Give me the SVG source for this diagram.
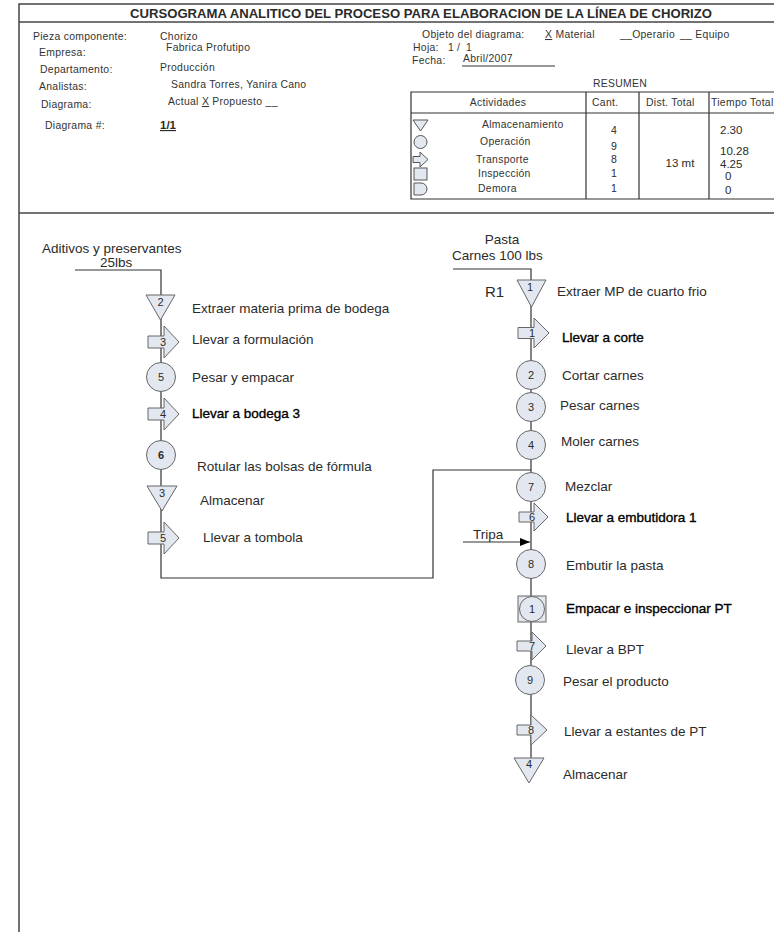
<svg xmlns="http://www.w3.org/2000/svg" width="774" height="932" viewBox="0 0 774 932">
<style>
text{font-family:"Liberation Sans",Arial,sans-serif;fill:#2b2b2b}
.h{font-size:10.4px;letter-spacing:0.3px;fill:#333}
.hv{font-size:11.5px}
.cn{font-size:10.5px;text-anchor:middle}
.lbl{font-size:13.5px}
.dk{fill:#000;stroke:#000;stroke-width:0.35}
.num{font-size:11px;text-anchor:middle}
.shape{fill:#e3e8f0;stroke:#666;stroke-width:1}
.ln{fill:none;stroke:#333;stroke-width:1.2}
.frame{fill:none;stroke:#444;stroke-width:1.5}
.tb{fill:none;stroke:#333;stroke-width:1.2}
.sym{fill:#e3e8f0;stroke:#555;stroke-width:1}
</style>
<defs>
<marker id="ah" markerWidth="10" markerHeight="8" refX="10" refY="4" orient="auto" markerUnits="userSpaceOnUse">
<path d="M0,0 L10,4 L0,8 Z" fill="#000"/>
</marker>
</defs>
<rect width="774" height="932" fill="#fff"/>

<g id="frame">
<path class="frame" d="M19,932 V4 H774"/>
<line class="frame" x1="19" y1="22" x2="774" y2="22"/>
<line class="frame" x1="19" y1="213" x2="774" y2="213"/>
<text x="130" y="18" font-size="12" font-weight="bold" textLength="582" lengthAdjust="spacingAndGlyphs" fill="#111">CURSOGRAMA ANALITICO DEL PROCESO PARA ELABORACION DE LA LÍNEA DE CHORIZO</text>
</g>

<g id="header-left">
<text class="h" x="33" y="40">Pieza componente:</text>
<text class="h" x="160" y="40">Chorizo</text>
<text class="h" x="39" y="56">Empresa:</text>
<text class="h" x="166" y="51">Fabrica Profutipo</text>
<text class="h" x="40" y="73">Departamento:</text>
<text class="h" x="160" y="71">Producción</text>
<text class="h" x="39" y="90">Analistas:</text>
<text class="h" x="171" y="88">Sandra Torres, Yanira Cano</text>
<text class="h" x="41" y="108">Diagrama:</text>
<text class="h" x="168" y="105">Actual <tspan text-decoration="underline">X</tspan> Propuesto __</text>
<text class="h" x="45" y="129">Diagrama #:</text>
<text x="160" y="129" font-size="11.5" font-weight="bold" text-decoration="underline">1/1</text>
</g>

<g id="header-right">
<text class="h" x="422" y="38">Objeto del diagrama:</text>
<text class="h" x="545" y="38"><tspan text-decoration="underline">X</tspan> Material</text>
<text class="h" x="620" y="38">__Operario</text>
<text class="h" x="680" y="38">__ Equipo</text>
<text class="h" x="413" y="51">Hoja:</text>
<text class="h" x="448" y="51">1</text>
<text class="h" x="457" y="51">/</text>
<text class="h" x="466" y="51">1</text>
<text class="h" x="412" y="64">Fecha:</text>
<text class="h" x="463" y="62">Abril/2007</text>
<line x1="462" y1="66" x2="555" y2="66" stroke="#333" stroke-width="1"/>
<text class="h" x="593" y="87">RESUMEN</text>
</g>

<g id="resumen-table">
<path class="tb" d="M774,92 H411 V199 H774"/>
<line class="tb" x1="411" y1="113" x2="774" y2="113"/>
<line class="tb" x1="586" y1="92" x2="586" y2="199"/>
<line class="tb" x1="639" y1="92" x2="639" y2="199"/>
<line class="tb" x1="709" y1="92" x2="709" y2="199"/>
<text class="h" x="498" y="106" text-anchor="middle">Actividades</text>
<text class="h" x="592" y="106">Cant.</text>
<text class="h" x="646" y="106">Dist. Total</text>
<text class="h" x="711" y="106">Tiempo Total</text>
<polygon class="sym" points="413,120 428,120 420.5,131"/>
<circle class="sym" cx="420.5" cy="142" r="6.5"/>
<polygon class="sym" points="413,156.5 420,156.5 420,152 428,159.5 420,167 420,162.5 413,162.5"/>
<rect class="sym" x="414" y="168" width="13" height="12"/>
<path class="sym" d="M414,183 H421 A6,6 0 0 1 421,195 H414 Z"/>
<text class="h" x="482" y="128">Almacenamiento</text>
<text class="h" x="480" y="145">Operación</text>
<text class="h" x="476" y="163">Transporte</text>
<text class="h" x="478" y="177">Inspección</text>
<text class="h" x="478" y="192">Demora</text>
<text class="cn" x="614" y="134">4</text>
<text class="cn" x="614" y="150">9</text>
<text class="cn" x="614" y="163">8</text>
<text class="cn" x="614" y="177">1</text>
<text class="cn" x="614" y="192">1</text>
<text class="hv" x="680" y="167" text-anchor="middle">13 mt</text>
<text class="hv" x="720" y="134">2.30</text>
<text class="hv" x="720" y="155">10.28</text>
<text class="hv" x="720" y="168">4.25</text>
<text class="hv" x="725" y="180">0</text>
<text class="hv" x="725" y="194">0</text>
</g>

<g id="connectors">
<path class="ln" d="M75,270 H161 V578 H433 V470 H531"/>
<path class="ln" d="M453,269 H531 V758"/>
<path class="ln" d="M463,542 H530" marker-end="url(#ah)"/>
</g>

<g id="input-left">
<text class="lbl" x="42" y="253">Aditivos y preservantes</text>
<text class="lbl" x="100" y="267">25lbs</text>
</g>
<g id="input-right">
<text class="lbl" x="502" y="244" text-anchor="middle">Pasta</text>
<text class="lbl" x="452" y="260">Carnes 100 lbs</text>
<text x="485" y="297" font-size="15">R1</text>
</g>
<g id="input-tripa">
<text class="lbl" x="473" y="539">Tripa</text>
</g>

<g id="L-alm2">
<polygon class="shape" points="146,295 175,295 160.5,320"/>
<text class="num" x="160.5" y="306">2</text>
<text class="lbl" x="192" y="313">Extraer materia prima de bodega</text>
</g>
<g id="L-tr3">
<polygon class="shape" points="148,336 164,336 164,326 179,342 164,358 164,348 148,348"/>
<text class="num" x="163" y="346">3</text>
<text class="lbl" x="192" y="344">Llevar a formulación</text>
</g>
<g id="L-op5">
<circle class="shape" cx="161" cy="377" r="14.5"/>
<text class="num" x="161" y="381">5</text>
<text class="lbl" x="192" y="382">Pesar y empacar</text>
</g>
<g id="L-tr4">
<polygon class="shape" points="148,408 164,408 164,398 179,414 164,430 164,420 148,420"/>
<text class="num" x="163" y="418">4</text>
<text class="lbl dk" x="192" y="418">Llevar a bodega 3</text>
</g>
<g id="L-op6">
<circle class="shape" cx="161" cy="455" r="14.5"/>
<text class="num" x="161" y="459" font-weight="bold">6</text>
<text class="lbl" x="197" y="471">Rotular las bolsas de fórmula</text>
</g>
<g id="L-alm3">
<polygon class="shape" points="147,486 177,486 162,511"/>
<text class="num" x="162" y="497">3</text>
<text class="lbl" x="200" y="505">Almacenar</text>
</g>
<g id="L-tr5">
<polygon class="shape" points="148,532 164,532 164,522 179,538 164,554 164,544 148,544"/>
<text class="num" x="163" y="542">5</text>
<text class="lbl" x="203" y="542">Llevar a tombola</text>
</g>

<g id="R-alm1">
<polygon class="shape" points="517,280 546,280 531.5,307"/>
<text class="num" x="530" y="291">1</text>
<text class="lbl" x="557" y="296">Extraer MP de cuarto frio</text>
</g>
<g id="R-tr1">
<polygon class="shape" points="518,327.5 534,327.5 534,318 549,333 534,348 534,338.5 518,338.5"/>
<text class="num" x="532" y="337">1</text>
<text class="lbl dk" x="562" y="342">Llevar a corte</text>
</g>
<g id="R-op2">
<circle class="shape" cx="531" cy="375" r="14.5"/>
<text class="num" x="531" y="379">2</text>
<text class="lbl" x="562" y="380">Cortar carnes</text>
</g>
<g id="R-op3">
<circle class="shape" cx="531" cy="407" r="14.5"/>
<text class="num" x="531" y="411">3</text>
<text class="lbl" x="560" y="410">Pesar carnes</text>
</g>
<g id="R-op4">
<circle class="shape" cx="531" cy="445" r="14.5"/>
<text class="num" x="531" y="449">4</text>
<text class="lbl" x="561" y="446">Moler carnes</text>
</g>
<g id="R-op7">
<circle class="shape" cx="531" cy="487" r="14.5"/>
<text class="num" x="531" y="491">7</text>
<text class="lbl" x="565" y="491">Mezclar</text>
</g>
<g id="R-tr6">
<polygon class="shape" points="519,512 534,512 534,503 548,517 534,531 534,522 519,522"/>
<text class="num" x="532" y="521">6</text>
<text class="lbl dk" x="566" y="522">Llevar a embutidora 1</text>
</g>
<g id="R-op8">
<circle class="shape" cx="531" cy="564" r="14.5"/>
<text class="num" x="531" y="568">8</text>
<text class="lbl" x="566" y="570">Embutir la pasta</text>
</g>
<g id="R-insp1">
<rect class="shape" x="518" y="596" width="28" height="26"/>
<circle class="shape" cx="532" cy="609" r="12.5"/>
<text class="num" x="532" y="613">1</text>
<text class="lbl dk" x="566" y="613">Empacar e inspeccionar PT</text>
</g>
<g id="R-tr7">
<polygon class="shape" points="517,641 532,641 532,632 546,646 532,660 532,651 517,651"/>
<text class="num" x="532" y="650">7</text>
<text class="lbl" x="566" y="654">Llevar a BPT</text>
</g>
<g id="R-op9">
<circle class="shape" cx="530" cy="680" r="14.5"/>
<text class="num" x="530" y="684" font-size="9">9</text>
<text class="lbl" x="563" y="686">Pesar el producto</text>
</g>
<g id="R-tr8">
<polygon class="shape" points="517,725 531,725 531,715 547,730 531,745 531,735 517,735"/>
<text class="num" x="531" y="734">8</text>
<text class="lbl" x="564" y="736">Llevar a estantes de PT</text>
</g>
<g id="R-alm4">
<polygon class="shape" points="514,758 544,758 529,783"/>
<text class="num" x="529" y="768">4</text>
<text class="lbl" x="563" y="779">Almacenar</text>
</g>
</svg>
